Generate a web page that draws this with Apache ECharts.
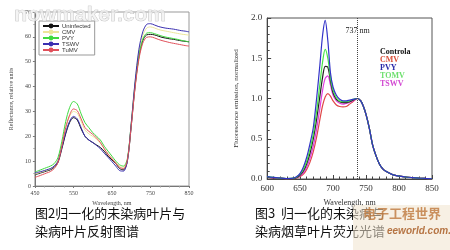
<!DOCTYPE html>
<html>
<head>
<meta charset="utf-8">
<script src="https://cdn.jsdelivr.net/npm/echarts@6/dist/echarts.min.js"></script>
<style>
html,body{margin:0;padding:0;background:#fff;width:450px;height:250px;overflow:hidden;}
#c1{position:absolute;left:0;top:0;width:225px;height:250px;}
#c2{position:absolute;left:225px;top:0;width:225px;height:250px;}
</style>
</head>
<body>
<div id="c1"></div>
<div id="c2"></div>
<script>
// ---------- Figure 2: reflectance ----------
const reflWavelengths = [450,460,470,480,490,500,510,520,530,540,550,560,570,580,590,600,610,620,630,640,650,660,670,680,690,700,710,720,730,740,750,760,770,780,790,800,810,820,830,840,850];
const reflUninfected = [4.5,5,5.5,6,6.5,7.5,9.5,15,21,25.5,27.5,26.5,23,20,18.5,17.5,16.5,15.5,14,12,10.5,9,7,6.5,10,24,40,52,58.5,60.8,61,60.8,60.3,59.8,59.5,59.2,59,58.7,58.4,58.2,58];
const reflCMV = [4.8,5.3,5.8,6.3,6.9,8,10.5,16.5,23.5,28,30,29.3,26,22.5,21,20,18.8,17.2,15,12.8,11,9.3,7.8,7.5,10.5,25,41.5,54,60.5,63.5,64,63.6,63,62.6,62.3,62,61.7,61.4,61.1,60.9,60.7];
const reflPVY = [5.6,6.2,6.8,7.4,8,9,11.5,18,26,31.5,34,33,29,25.5,23.5,21.5,20,18.5,16,14,12,10,8.5,8,11,25,41,52.5,59,61.5,61.7,61.3,60.8,60.3,59.9,59.6,59.3,59,58.6,58.3,58];
const reflTSWV = [5.2,5.6,6,6.5,7,8,10,15.5,21.5,26,28,27,23.5,20,18.5,17.5,16.3,15,13.2,11.5,9.8,8,6.2,6,10,25,42,55,62,65,65.3,64.8,64.2,63.8,63.5,63.3,63.1,62.8,62.5,62.3,62];
const reflTuMV = [3.5,4,4.6,5.2,5.8,7,9.5,16,23.5,28.5,31,30.3,27,23.5,22,20.8,19.3,17.5,15,12.8,11,9.2,7.5,7,10.5,24,39.5,51,57.5,59.8,60,59.6,59,58.5,58.1,57.7,57.4,57.1,56.8,56.5,56.3];
const reflNames = ['Uninfected','CMV','PVY','TSWV','TuMV'];
const reflXTicks = [450,550,650,750,850];
const reflYTicks = [0,10,20,30,40,50,60,70];

// ---------- Figure 3: fluorescence ----------
const fluoWavelengths = [600,610,620,630,640,645,650,655,660,665,670,675,680,684,688,692,696,700,705,710,715,720,725,730,737,742,746,750,755,760,765,770,775,780,790,800,810,820,830,840,850];
const fluoTail = [0.97,0.9,0.8,0.63,0.42,0.29,0.19,0.13,0.095,0.055,0.035,0.025,0.018,0.012,0.007,0.003];
const fluoControla = [0.02,0.015,0.01,0.005,0.008,0.02,0.05,0.1,0.19,0.32,0.5,0.74,1.03,1.26,1.4,1.39,1.22,1.07,0.99,0.96,0.95,0.95,0.96,0.98,1.0].concat(fluoTail);
const fluoCMV = [0.02,0.015,0.01,0.004,0.005,0.012,0.03,0.06,0.12,0.21,0.34,0.52,0.74,0.91,1.02,1.06,1.03,0.97,0.92,0.9,0.895,0.9,0.93,0.96,1.0].concat(fluoTail);
const fluoPVY = [0.03,0.02,0.01,0.005,0.01,0.03,0.07,0.15,0.27,0.44,0.64,1.0,1.42,1.78,1.97,1.72,1.32,1.14,1.04,0.99,0.97,0.97,0.98,0.99,1.0].concat(fluoTail);
const fluoTOMV = [0.03,0.02,0.01,0.005,0.01,0.025,0.06,0.12,0.22,0.37,0.56,0.84,1.18,1.45,1.61,1.5,1.26,1.1,1.01,0.97,0.96,0.96,0.97,0.99,1.0].concat(fluoTail);
const fluoTSWV = [0.02,0.015,0.01,0.004,0.006,0.015,0.04,0.08,0.15,0.26,0.41,0.62,0.88,1.1,1.25,1.28,1.17,1.04,0.97,0.94,0.93,0.94,0.95,0.97,1.0].concat(fluoTail);
const fluoNames = ['Controla','CMV','PVY','TOMV','TSWV'];
const fluoMarker = 737;
const fluoXTicks = [600,650,700,750,800,850];
const fluoYTicks = [0,0.5,1.0,1.5,2.0];

const serif = '"Liberation Serif","DejaVu Serif",serif';
const cjk = '"Noto Sans CJK SC","Noto Sans",sans-serif';

function pairs(xs, ys){ return xs.map((x,i)=>[x, ys[i]]); }

// ---- chart 1
const c1 = echarts.init(document.getElementById('c1'), null, {renderer:'canvas'});
const reflColors = ['#111111','#ece59a','#3fd93f','#3a2fb0','#e0505a'];
const reflData = [reflUninfected, reflCMV, reflPVY, reflTSWV, reflTuMV];
c1.setOption({
  animation:false,
  backgroundColor:'#fff',
  grid:{left:32, right:36, top:12, bottom:64, show:true, borderColor:'#999', borderWidth:1},
  legend:{
    left:39, top:21, orient:'vertical', itemGap:0, itemWidth:16, itemHeight:6,
    padding:[2,4,2,3], borderColor:'#999', borderWidth:1, backgroundColor:'#fff',
    textStyle:{fontSize:6, color:'#333', fontFamily:'"Liberation Sans",sans-serif', padding:[0,0,0,-2]},
    data: reflNames
  },
  xAxis:{
    type:'value', min:reflXTicks[0], max:reflXTicks[reflXTicks.length-1], interval:100,
    name:'Wavelength, nm', nameLocation:'middle', nameGap:11,
    nameTextStyle:{fontSize:6, fontFamily:serif, color:'#444'},
    axisLine:{lineStyle:{color:'#777'}},
    axisTick:{length:2, lineStyle:{color:'#777'}},
    minorTick:{show:true, splitNumber:4, length:1.5, lineStyle:{color:'#999'}},
    splitLine:{show:false},
    axisLabel:{fontSize:6, fontFamily:serif, color:'#444', margin:4}
  },
  yAxis:{
    type:'value', min:reflYTicks[0], max:reflYTicks[reflYTicks.length-1], interval:10,
    name:'Reflectance, relative units', nameLocation:'middle', nameGap:16,
    nameTextStyle:{fontSize:6, fontFamily:serif, color:'#444'},
    axisLine:{show:true, lineStyle:{color:'#777'}},
    axisTick:{show:true, length:2, lineStyle:{color:'#777'}},
    minorTick:{show:true, splitNumber:2, length:1.5, lineStyle:{color:'#999'}},
    splitLine:{show:false},
    axisLabel:{fontSize:6, fontFamily:serif, color:'#444', margin:4}
  },
  series: reflNames.map((n,i)=>({
    name:n, type:'line', symbol:'none', smooth:0.3, color:reflColors[i],
    lineStyle:{width:1, color:reflColors[i]}, data: pairs(reflWavelengths, reflData[i])
  })),
  graphic:[
    {type:'text', left:14, top:4, z:100, silent:true,
     style:{text:'nowmaker.com', font:'bold 21px "Liberation Sans",sans-serif', fill:'rgba(240,240,240,0.75)', stroke:'#b8b8b8', lineWidth:0.6}},
    {type:'text', left:35, top:207, style:{text:'图2归一化的未染病叶片与', font:'13px '+cjk, fill:'#111'}},
    {type:'text', left:35, top:225, style:{text:'染病叶片反射图谱', font:'13px '+cjk, fill:'#111'}}
  ]
});

// ---- chart 2
const c2 = echarts.init(document.getElementById('c2'), null, {renderer:'canvas'});
const fluoColors = ['#222222','#e0484a','#3232c8','#46e646','#e03ee0'];
const fluoTextColors = ['#111111','#d9503a','#2a2aa8','#6ee06e','#d248d2'];
const fluoData = [fluoControla, fluoCMV, fluoPVY, fluoTOMV, fluoTSWV];
const drawOrder = [1,4,0,3,2];
c2.setOption({
  animation:false,
  backgroundColor:'#fff',
  grid:{left:29, right:18, top:18, bottom:71, show:true, borderColor:'#555', borderWidth:1},
  legend:{
    left:150, top:43, orient:'vertical', itemGap:0, itemWidth:0, itemHeight:7, icon:'rect',
    textStyle:{fontSize:8, fontWeight:'bold', fontFamily:serif, lineHeight:7, padding:[0,0,0,-5]},
    data: fluoNames.map((n,i)=>({name:n, textStyle:{color:fluoTextColors[i]}}))
  },
  xAxis:{
    type:'value', min:fluoXTicks[0], max:fluoXTicks[fluoXTicks.length-1], interval:50,
    name:'Wavelength, nm', nameLocation:'middle', nameGap:20,
    nameTextStyle:{fontSize:8, fontFamily:serif, color:'#333'},
    axisLine:{lineStyle:{color:'#444'}},
    axisTick:{inside:true, length:4, lineStyle:{color:'#444'}},
    minorTick:{show:true, splitNumber:5, length:2.5, lineStyle:{color:'#444'}},
    splitLine:{show:false},
    axisLabel:{fontSize:9, fontFamily:serif, color:'#333', margin:5}
  },
  yAxis:{
    type:'value', min:fluoYTicks[0], max:fluoYTicks[fluoYTicks.length-1], interval:0.5,
    name:'Fluorescence emission, normalized', nameLocation:'middle', nameGap:22,
    nameTextStyle:{fontSize:7, fontFamily:serif, color:'#333'},
    axisLine:{show:true, lineStyle:{color:'#444'}},
    axisTick:{show:true, inside:true, length:4, lineStyle:{color:'#444'}},
    minorTick:{show:true, splitNumber:5, length:2.5, lineStyle:{color:'#444'}},
    splitLine:{show:false},
    axisLabel:{fontSize:9, fontFamily:serif, color:'#333', margin:5, formatter:v=>v.toFixed(1)}
  },
  series: drawOrder.map(i=>{
    const s = {
      name:fluoNames[i], type:'line', symbol:'none', smooth:0.3, color:fluoColors[i],
      lineStyle:{width:1.2, color:fluoColors[i]}, data: pairs(fluoWavelengths, fluoData[i])
    };
    if (i===0) {
      s.markLine = {
        silent:true, symbol:'none', animation:false,
        lineStyle:{type:'dotted', color:'#444', width:1},
        label:{show:true, position:'end', formatter:fluoMarker+' nm', offset:[0,22],
               fontSize:8, fontFamily:serif, color:'#222'},
        data:[{xAxis:fluoMarker}]
      };
    }
    return s;
  }),
  graphic:[
    {type:'text', left:30, top:207, style:{text:'图3  归一化的未染病与', font:'13px '+cjk, fill:'#111'}},
    {type:'text', left:30, top:225, style:{text:'染病烟草叶片荧光光谱', font:'13px '+cjk, fill:'#111'}},
    {type:'rect', left:128, top:205, shape:{width:97, height:45}, style:{fill:'rgba(240,228,205,0.55)'}, z:50, silent:true},
    {type:'text', left:138, top:207, z:60, silent:true, style:{text:'电子工程世界', font:'bold 13px '+cjk, fill:'rgba(190,120,60,0.8)'}},
    {type:'text', left:162, top:226, z:60, silent:true, style:{text:'eeworld.com.cn', font:'italic bold 10px "Liberation Sans",sans-serif', fill:'rgba(170,95,40,0.85)'}}
  ]
});
</script>
</body>
</html>
